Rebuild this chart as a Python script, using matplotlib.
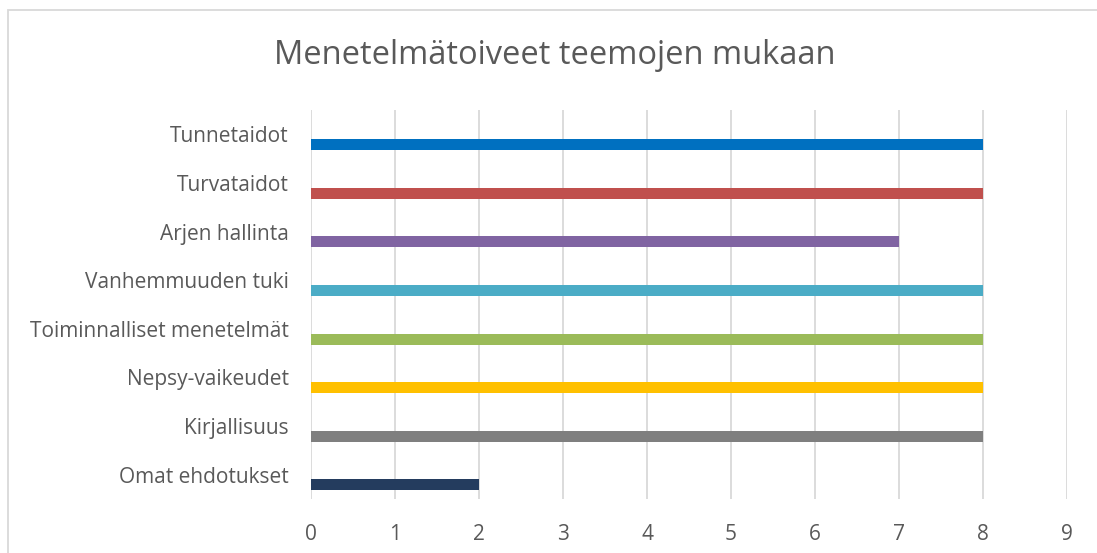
import numpy as np
import matplotlib.pyplot as plt
from matplotlib.patches import Rectangle

# data (top to bottom as in the chart)
categories = ["Tunnetaidot", "Turvataidot", "Arjen hallinta", "Vanhemmuuden tuki",
              "Toiminnalliset menetelmät", "Nepsy-vaikeudet", "Kirjallisuus", "Omat ehdotukset"]
values = [8, 8, 7, 8, 8, 8, 8, 2]
colors = ["#0070C0", "#C0504D", "#8064A2", "#4BACC6",
          "#9BBB59", "#FFC000", "#7F7F7F", "#243C5E"]
x_ticks = list(range(0, 10))

txt = "#595959"
plt.rcParams['font.family'] = ['Open Sans', 'DejaVu Sans']

fig = plt.figure(figsize=(10.97, 5.53), dpi=100)
W, H = 1097, 553
# plot area in pixels: x 311..1067, y 110..499
ax = fig.add_axes([311 / W, 1 - 499 / H, (1067 - 311) / W, (499 - 110) / H])

# outer chart border (runs off right and bottom edges)
fig.patches.append(Rectangle((8 / W, -0.05), 1.2, 1 - 10 / H + 0.05, transform=fig.transFigure,
                             fill=False, edgecolor="#D9D9D9", linewidth=1.3))

y = np.arange(len(categories))
# bars sit in the lower half of each category band
ax.barh(y + 0.21, values, height=0.226, color=colors, zorder=3)

ax.set_xlim(0, 9)
ax.set_ylim(len(categories) - 0.5, -0.5)
ax.set_xticks(x_ticks)
ax.set_xticklabels([str(t) for t in x_ticks], fontsize=15, color=txt)
ax.set_yticks(y)
ax.set_yticklabels(categories, fontsize=15, color=txt)
ax.tick_params(axis='both', length=0)
ax.tick_params(axis='x', pad=18)
ax.tick_params(axis='y', pad=16)
ax.xaxis.grid(True, color="#D9D9D9", linewidth=1.3, zorder=0)
for s in ax.spines.values():
    s.set_visible(False)

fig.text(555 / W, 1 - 56 / H, "Menetelmätoiveet teemojen mukaan", ha='center', va='center',
         fontsize=23.5, color=txt)

fig.savefig("out.png", dpi=100)
